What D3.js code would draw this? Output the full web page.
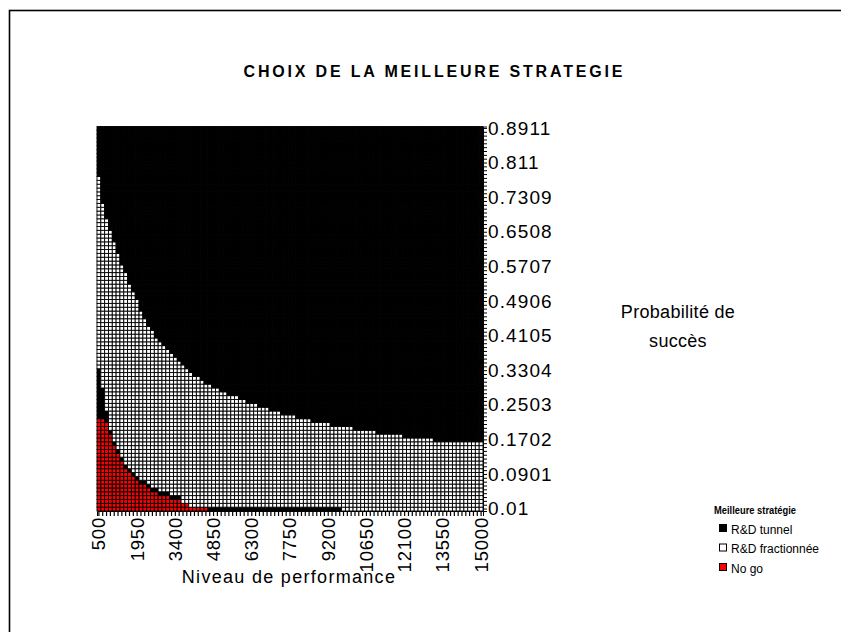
<!DOCTYPE html>
<html>
<head>
<meta charset="utf-8">
<script src="https://cdn.jsdelivr.net/npm/d3@7/dist/d3.min.js"></script>
<style>
  html, body { margin: 0; padding: 0; background: #fff; }
  svg { display: block; }
  text { font-family: "Liberation Sans", Arial, sans-serif; fill: #000; }
</style>
</head>
<body>
<svg id="chart" width="841" height="632"></svg>
<script>
// ---- Data ----
const xCategories = [500, 645, 790, 935, 1080, 1225, 1370, 1515, 1660, 1805,
  1950, 2095, 2240, 2385, 2530, 2675, 2820, 2965, 3110, 3255,
  3400, 3545, 3690, 3835, 3980, 4125, 4270, 4415, 4560, 4705,
  4850, 4995, 5140, 5285, 5430, 5575, 5720, 5865, 6010, 6155,
  6300, 6445, 6590, 6735, 6880, 7025, 7170, 7315, 7460, 7605,
  7750, 7895, 8040, 8185, 8330, 8475, 8620, 8765, 8910, 9055,
  9200, 9345, 9490, 9635, 9780, 9925, 10070, 10215, 10360, 10505,
  10650, 10795, 10940, 11085, 11230, 11375, 11520, 11665, 11810, 11955,
  12100, 12245, 12390, 12535, 12680, 12825, 12970, 13115, 13260, 13405,
  13550, 13695, 13840, 13985, 14130, 14275, 14420, 14565, 14710, 14855,
  15000];

const yCategories = [0.0100, 0.0189, 0.0278, 0.0367, 0.0456, 0.0545, 0.0634, 0.0723, 0.0812, 0.0901,
  0.0990, 0.1079, 0.1168, 0.1257, 0.1346, 0.1435, 0.1524, 0.1613, 0.1702, 0.1791,
  0.1880, 0.1969, 0.2058, 0.2147, 0.2236, 0.2325, 0.2414, 0.2503, 0.2592, 0.2681,
  0.2770, 0.2859, 0.2948, 0.3037, 0.3126, 0.3215, 0.3304, 0.3393, 0.3482, 0.3571,
  0.3660, 0.3749, 0.3838, 0.3927, 0.4016, 0.4105, 0.4194, 0.4283, 0.4372, 0.4461,
  0.4550, 0.4639, 0.4728, 0.4817, 0.4906, 0.4995, 0.5084, 0.5173, 0.5262, 0.5351,
  0.5440, 0.5529, 0.5618, 0.5707, 0.5796, 0.5885, 0.5974, 0.6063, 0.6152, 0.6241,
  0.6330, 0.6419, 0.6508, 0.6597, 0.6686, 0.6775, 0.6864, 0.6953, 0.7042, 0.7131,
  0.7220, 0.7309, 0.7398, 0.7487, 0.7576, 0.7665, 0.7754, 0.7843, 0.7932, 0.8021,
  0.8110, 0.8199, 0.8288, 0.8377, 0.8466, 0.8555, 0.8644, 0.8733, 0.8822, 0.8911];

const xTickLabels = ["500", "1950", "3400", "4850", "6300", "7750", "9200", "10650", "12100", "13550", "15000"];
const yTickLabels = ["0.01", "0.0901", "0.1702", "0.2503", "0.3304", "0.4105", "0.4906", "0.5707", "0.6508", "0.7309", "0.811", "0.8911"];

// per performance level: number of lowest probability cells that are "No go"
const nogoCells = [24, 24, 23, 20, 17, 15, 13, 11, 10, 9,
  8, 7, 7, 6, 5, 5, 4, 4, 4, 3,
  3, 3, 2, 2, 1, 1, 1, 1, 1, 0,
  0, 0, 0, 0, 0, 0, 0, 0, 0, 0,
  0, 0, 0, 0, 0, 0, 0, 0, 0, 0,
  0, 0, 0, 0, 0, 0, 0, 0, 0, 0,
  0, 0, 0, 0, 0, 0, 0, 0, 0, 0,
  0, 0, 0, 0, 0, 0, 0, 0, 0, 0,
  0, 0, 0, 0, 0, 0, 0, 0, 0, 0,
  0, 0, 0, 0, 0, 0, 0, 0, 0, 0,
  0];
// cells of "R&D tunnel" right above the No go zone
const lowTunnelCells = [13, 8, 3, 1, 1, 1, 1, 1, 1, 1,
  1, 1, 1, 1, 1, 1, 1, 1, 1, 1,
  1, 1, 0, 0, 0, 0, 0, 0, 0, 1,
  1, 1, 1, 1, 1, 1, 1, 1, 1, 1,
  1, 1, 1, 1, 1, 1, 1, 1, 1, 1,
  1, 1, 1, 1, 1, 1, 1, 1, 1, 1,
  1, 1, 1, 1, 0, 0, 0, 0, 0, 0,
  0, 0, 0, 0, 0, 0, 0, 0, 0, 0,
  0, 0, 0, 0, 0, 0, 0, 0, 0, 0,
  0, 0, 0, 0, 0, 0, 0, 0, 0, 0,
  0];
// index of first probability level where "R&D tunnel" becomes the best strategy
const fractionneeTop = [87, 80, 76, 73, 70, 67, 64, 62, 59, 57,
  55, 52, 50, 48, 47, 45, 44, 43, 42, 41,
  40, 39, 38, 37, 36, 35, 35, 34, 33, 33,
  32, 32, 31, 31, 30, 30, 30, 29, 29, 28,
  28, 28, 27, 27, 27, 26, 26, 26, 25, 25,
  25, 25, 24, 24, 24, 24, 23, 23, 23, 23,
  23, 22, 22, 22, 22, 22, 22, 21, 21, 21,
  21, 21, 21, 20, 20, 20, 20, 20, 20, 20,
  19, 19, 19, 19, 19, 19, 19, 19, 18, 18,
  18, 18, 18, 18, 18, 18, 18, 18, 18, 18,
  18];

const legendLabels = ["R&D tunnel", "R&D fractionnée", "No go"];
const legendKeys = ["tunnel", "fractionnee", "nogo"];
const strategyColors = { tunnel: "#000000", fractionnee: "#ffffff", nogo: "#ff0000" };

// ---- Chart ----
const svg = d3.select("#chart");

svg.append("rect")
  .attr("x", 9.5).attr("y", 10.5).attr("width", 845).attr("height", 640)
  .attr("fill", "none").attr("stroke", "#000").attr("stroke-width", 1.6);

const x = d3.scaleBand().domain(xCategories).range([97, 483]).padding(0);
const y = d3.scaleBand().domain(yCategories).range([511, 126.5]).padding(0);

function strategyOf(i, j) {
  const n = nogoCells[i], l = lowTunnelCells[i];
  if (j < n) return "nogo";
  if (j < n + l) return "tunnel";
  if (j < fractionneeTop[i]) return "fractionnee";
  return "tunnel";
}

const cells = [];
xCategories.forEach((xv, i) => {
  yCategories.forEach((yv, j) => {
    cells.push({ xv, yv, s: strategyOf(i, j) });
  });
});

const plot = svg.append("g");
plot.selectAll("rect.cell")
  .data(cells)
  .join("rect")
  .attr("class", "cell")
  .attr("x", d => x(d.xv))
  .attr("y", d => y(d.yv))
  .attr("width", x.bandwidth())
  .attr("height", y.bandwidth())
  .attr("fill", d => strategyColors[d.s])
  .attr("stroke", "#000")
  .attr("stroke-width", 0.9);

// Right axis (probability)
const yAxis = d3.axisRight(y)
  .tickSize(4)
  .tickFormat(d => {
    const idx = yCategories.indexOf(d);
    return idx % 9 === 0 ? yTickLabels[idx / 9] : "";
  });
const gy = svg.append("g").attr("transform", "translate(483,0)").call(yAxis);
gy.select(".domain").attr("stroke", "#000");
gy.selectAll(".tick line").attr("stroke", "#000").attr("stroke-width", 1);
gy.selectAll(".tick text")
  .attr("x", 5)
  .style("font-size", "19px")
  .style("letter-spacing", "1.1px");

// Bottom axis (performance)
const xAxis = d3.axisBottom(x)
  .tickSize(5)
  .tickFormat(d => {
    const idx = xCategories.indexOf(d);
    return idx % 10 === 0 ? xTickLabels[idx / 10] : "";
  });
const gx = svg.append("g").attr("transform", "translate(0,511)").call(xAxis);
gx.select(".domain").attr("stroke", "#000");
gx.selectAll(".tick line").attr("stroke", "#000").attr("stroke-width", 1.2);
gx.selectAll(".tick text")
  .attr("transform", "rotate(-90)")
  .attr("x", -6)
  .attr("y", 0)
  .attr("dy", "0.35em")
  .attr("text-anchor", "end")
  .style("font-size", "18.5px")
  .style("letter-spacing", "0.8px");

// Title
svg.append("text")
  .attr("x", 433).attr("y", 77)
  .attr("text-anchor", "middle")
  .attr("textLength", 379)
  .attr("lengthAdjust", "spacing")
  .style("font-size", "16px").style("font-weight", "bold")
  .text("CHOIX DE LA MEILLEURE STRATEGIE");

// Axis titles
svg.append("text")
  .attr("x", 289).attr("y", 583)
  .attr("text-anchor", "middle")
  .style("font-size", "18px").style("letter-spacing", "1.3px")
  .text("Niveau de performance");

svg.append("text")
  .attr("x", 678).attr("y", 318)
  .attr("text-anchor", "middle")
  .style("font-size", "18px").style("letter-spacing", "0.3px")
  .text("Probabilité de");
svg.append("text")
  .attr("x", 678).attr("y", 347)
  .attr("text-anchor", "middle")
  .style("font-size", "18px").style("letter-spacing", "0.3px")
  .text("succès");

// Legend
const lg = svg.append("g");
lg.append("text")
  .attr("x", 714).attr("y", 514)
  .attr("textLength", 82)
  .attr("lengthAdjust", "spacingAndGlyphs")
  .style("font-size", "11.5px").style("font-weight", "bold")
  .text("Meilleure stratégie");
legendLabels.forEach((lab, k) => {
  const yy = 529 + k * 19.5;
  lg.append("rect")
    .attr("x", 719.5).attr("y", yy - 4.5)
    .attr("width", 7).attr("height", 7)
    .attr("fill", strategyColors[legendKeys[k]])
    .attr("stroke", "#000").attr("stroke-width", 1);
  lg.append("text")
    .attr("x", 731).attr("y", yy + 4.5)
    .style("font-size", "12px")
    .text(lab);
});
</script>
</body>
</html>
